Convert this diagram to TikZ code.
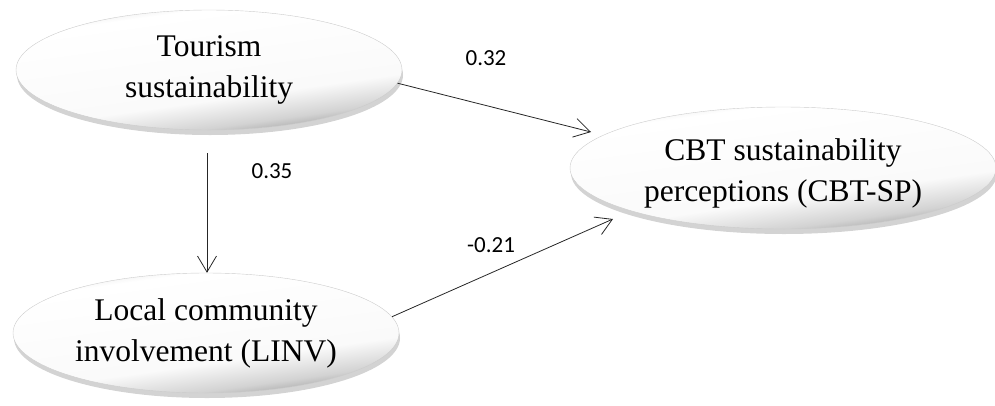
\documentclass[tikz,border=0pt]{standalone}
\usepackage{fontspec}
\setmainfont{Liberation Serif}
\newfontfamily\coeffont{Carlito}
\usetikzlibrary{shapes.geometric,shadows,arrows.meta}
\pgfdeclareverticalshading{ovalbevel}{100bp}{color(0bp)=(gray!80); color(25bp)=(gray!80); color(31bp)=(gray!35); color(40bp)=(white!96!gray); color(70bp)=(white); color(75bp)=(gray!20); color(100bp)=(gray!20)}
\begin{document}
\begin{tikzpicture}[x=1pt,y=-1pt]
\tikzstyle{every node}+=[inner sep=0pt]
\tikzstyle{oval}=[ellipse, draw=gray!40, line width=0.4pt, shading=ovalbevel, shading angle=8,
  drop shadow={shadow xshift=1pt, shadow yshift=-5pt, opacity=0.35, fill=gray},
  font=\fontsize{31.5}{41}\selectfont, align=center]
\tikzstyle{coef}=[font=\coeffont\fontsize{23}{28}\selectfont]
\tikzstyle{effect}=[draw=black!85, line width=0.8pt, -{Straight Barb[length=16pt,width=19pt]}]
\useasboundingbox (0,0) rectangle (995,405);
\node[oval, minimum width=386pt, minimum height=120pt] (tour) at (209,70) {Tourism\\sustainability};
\node[oval, minimum width=386pt, minimum height=120pt] (linv) at (206,333) {Local community\\involvement (LINV)};
\node[oval, minimum width=426pt, minimum height=122pt] (cbt) at (783,168) {\rule{0pt}{32pt}CBT sustainability\\perceptions (CBT-SP)};
\coordinate (vstart) at (207,153);
\coordinate (tip1) at (591,132);
\coordinate (tip2) at (613,219);
\draw[effect] (vstart) -- (vstart |- linv.north);
\draw[effect] (tour.-4) -- (tip1);
\draw[effect] (linv.5) -- (tip2);
\node[coef] (c32) at (486,58) {0.32};
\node[coef] (c35) at (272,171) {0.35};
\node[coef] (c21) at (491,245) {-0.21};
\end{tikzpicture}
\end{document}
